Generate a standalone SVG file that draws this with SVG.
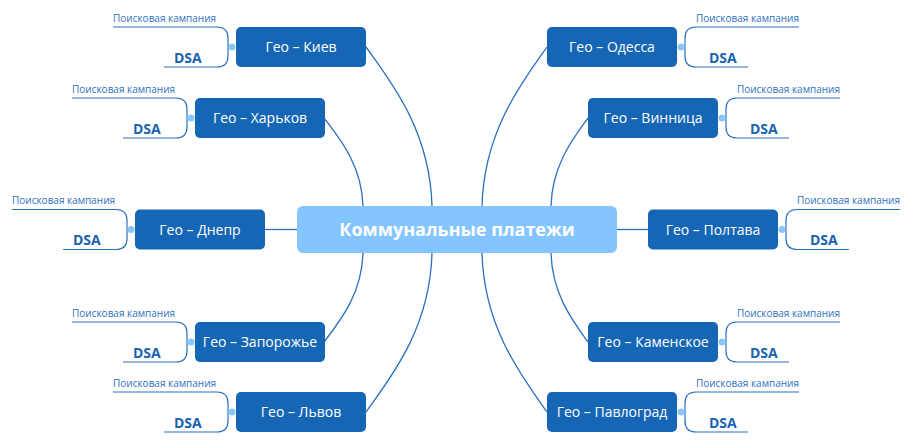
<svg xmlns="http://www.w3.org/2000/svg" width="917" height="448" viewBox="0 0 917 448">
<style>
.node{fill:#1666b6}
.lbl{font-family:"Open Sans","Noto Sans",sans-serif;font-size:14px;fill:#ffffff;text-anchor:middle}
.conn{fill:none;stroke:#2a70c0;stroke-width:1.3}
.br{fill:none;stroke:#2a70c0;stroke-width:1.2}
.dot{fill:#8cc6f8}
.sub{font-family:"Open Sans","Noto Sans",sans-serif;font-size:10px;fill:#2f70c0}
.dsa{font-family:"Open Sans","Noto Sans",sans-serif;font-size:14px;font-weight:bold;fill:#1a62b0}
</style>
<rect width="917" height="448" fill="#ffffff"/>
<g id="connectors">
<path class="conn" d="M366,47 C389.8,80.4 430,129.7 432,206"/>
<path class="conn" d="M366,412 C389.8,378.6 430,329.3 432,253"/>
<path class="conn" d="M324,118 C338,136.5 361.8,163.8 363,206"/>
<path class="conn" d="M324,342 C338,323.3 361.8,295.7 363,253"/>
<path class="conn" d="M547,47 C523.6,80.4 484,129.7 482,206"/>
<path class="conn" d="M547,412 C523.6,378.6 484,329.3 482,253"/>
<path class="conn" d="M588,118 C574.7,136.5 552.1,163.8 551,206"/>
<path class="conn" d="M588,342 C574.7,323.3 552.1,295.7 551,253"/>
<path class="conn" d="M265,229.5 H297"/>
<path class="conn" d="M617,229.5 H648"/>
</g>
<g id="center">
<rect x="297" y="206" width="320" height="47" rx="6" fill="#85c5ff"/>
<text x="457" y="236" font-family="Open Sans, Noto Sans, sans-serif" font-size="18" font-weight="bold" fill="#ffffff" text-anchor="middle">Коммунальные платежи</text>
</g>
<g id="kiev">
<rect class="node" x="236" y="27" width="130" height="40" rx="5"/>
<text class="lbl" x="301" y="52">Гео – Киев</text>
<path class="br" d="M113,27 H217 Q228,27 228,38 V56 Q228,67 217,67 H164"/>
<circle class="dot" cx="232" cy="47" r="3.5"/>
<text class="sub" x="113" y="21.5">Поисковая кампания</text>
<text class="dsa" x="174" y="62.5">DSA</text>
</g>
<g id="kharkov">
<rect class="node" x="195" y="98" width="130" height="40" rx="5"/>
<text class="lbl" x="260" y="123">Гео – Харьков</text>
<path class="br" d="M72,98 H176 Q187,98 187,109 V127 Q187,138 176,138 H123"/>
<circle class="dot" cx="191" cy="118" r="3.5"/>
<text class="sub" x="72" y="92.5">Поисковая кампания</text>
<text class="dsa" x="133" y="133.5">DSA</text>
</g>
<g id="dnepr">
<rect class="node" x="135" y="209.5" width="130" height="40" rx="5"/>
<text class="lbl" x="200" y="234.5">Гео – Днепр</text>
<path class="br" d="M12,209.5 H116 Q127,209.5 127,220.5 V238.5 Q127,249.5 116,249.5 H63"/>
<circle class="dot" cx="131" cy="229.5" r="3.5"/>
<text class="sub" x="12" y="204">Поисковая кампания</text>
<text class="dsa" x="73" y="245">DSA</text>
</g>
<g id="zaporozhye">
<rect class="node" x="195" y="322" width="130" height="40" rx="5"/>
<text class="lbl" x="260" y="347">Гео – Запорожье</text>
<path class="br" d="M72,322 H176 Q187,322 187,333 V351 Q187,362 176,362 H123"/>
<circle class="dot" cx="191" cy="342" r="3.5"/>
<text class="sub" x="72" y="316.5">Поисковая кампания</text>
<text class="dsa" x="133" y="357.5">DSA</text>
</g>
<g id="lviv">
<rect class="node" x="236" y="392" width="130" height="40" rx="5"/>
<text class="lbl" x="301" y="417">Гео – Львов</text>
<path class="br" d="M113,392 H217 Q228,392 228,403 V421 Q228,432 217,432 H164"/>
<circle class="dot" cx="232" cy="412" r="3.5"/>
<text class="sub" x="113" y="386.5">Поисковая кампания</text>
<text class="dsa" x="174" y="427.5">DSA</text>
</g>
<g id="odessa">
<rect class="node" x="547" y="27" width="130" height="40" rx="5"/>
<text class="lbl" x="612" y="52">Гео – Одесса</text>
<path class="br" d="M799,27 H696 Q685,27 685,38 V56 Q685,67 696,67 H748"/>
<circle class="dot" cx="681" cy="47" r="3.5"/>
<text class="sub" x="799" y="21.5" text-anchor="end">Поисковая кампания</text>
<text class="dsa" x="709" y="62.5">DSA</text>
</g>
<g id="vinnitsa">
<rect class="node" x="588" y="98" width="130" height="40" rx="5"/>
<text class="lbl" x="653" y="123">Гео – Винница</text>
<path class="br" d="M840,98 H737 Q726,98 726,109 V127 Q726,138 737,138 H789"/>
<circle class="dot" cx="722" cy="118" r="3.5"/>
<text class="sub" x="840" y="92.5" text-anchor="end">Поисковая кампания</text>
<text class="dsa" x="750" y="133.5">DSA</text>
</g>
<g id="poltava">
<rect class="node" x="648" y="209.5" width="130" height="40" rx="5"/>
<text class="lbl" x="713" y="234.5">Гео – Полтава</text>
<path class="br" d="M900,209.5 H797 Q786,209.5 786,220.5 V238.5 Q786,249.5 797,249.5 H849"/>
<circle class="dot" cx="782" cy="229.5" r="3.5"/>
<text class="sub" x="900" y="204" text-anchor="end">Поисковая кампания</text>
<text class="dsa" x="810" y="245">DSA</text>
</g>
<g id="kamenskoe">
<rect class="node" x="588" y="322" width="130" height="40" rx="5"/>
<text class="lbl" x="653" y="347">Гео – Каменское</text>
<path class="br" d="M840,322 H737 Q726,322 726,333 V351 Q726,362 737,362 H789"/>
<circle class="dot" cx="722" cy="342" r="3.5"/>
<text class="sub" x="840" y="316.5" text-anchor="end">Поисковая кампания</text>
<text class="dsa" x="750" y="357.5">DSA</text>
</g>
<g id="pavlograd">
<rect class="node" x="547" y="392" width="130" height="40" rx="5"/>
<text class="lbl" x="612" y="417">Гео – Павлоград</text>
<path class="br" d="M799,392 H696 Q685,392 685,403 V421 Q685,432 696,432 H748"/>
<circle class="dot" cx="681" cy="412" r="3.5"/>
<text class="sub" x="799" y="386.5" text-anchor="end">Поисковая кампания</text>
<text class="dsa" x="709" y="427.5">DSA</text>
</g>
</svg>
